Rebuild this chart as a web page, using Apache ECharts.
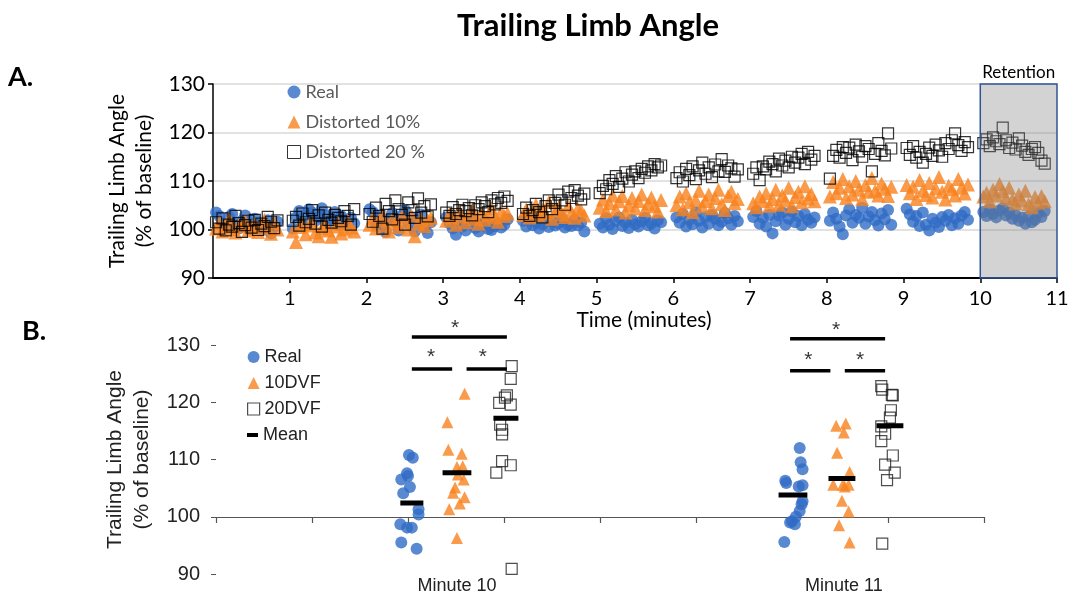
<!DOCTYPE html>
<html>
<head>
<meta charset="utf-8">
<script src="https://cdn.jsdelivr.net/npm/echarts@6/dist/echarts.min.js"></script>
<style>
  html, body { margin: 0; padding: 0; background: #fff; }
  #chart { width: 1074px; height: 597px; }
</style>
</head>
<body>
<div id="chart"></div>
<script>
// ---- panel A: one list of stride values per minute block (minutes 0..10) ----
const realA = [
  [103.5,102.8,101.2,100.4,102.6,103.2,101.0,100.2,101.8,102.9,101.5,100.0,102.2,101.1,99.8,100.6,101.9,99.2,100.5,101.6],
  [100.2,102.5,103.8,101.1,102.9,104.2,103.5,101.8,102.6,104.4,103.0,101.4,102.2,103.6,101.0,102.8,101.9,100.8,102.4,101.3],
  [104.2,103.6,101.0,102.8,100.2,99.5,102.1,103.4,101.6,99.8,102.9,104.0,101.2,102.5,99.6,101.8,103.1,100.4,99.3,101.5],
  [102.5,101.3,100.2,98.9,101.8,100.6,99.8,101.4,102.0,100.3,99.6,100.9,101.7,100.1,99.9,100.7,101.2,100.4,101.0,102.1],
  [101.8,100.6,102.4,100.9,101.5,100.2,101.1,102.0,100.5,101.7,100.8,101.3,102.2,100.4,101.0,100.7,101.9,100.9,101.4,99.6],
  [101.2,100.4,102.3,101.0,100.1,101.8,102.5,100.7,101.4,100.3,102.0,101.1,100.6,101.7,102.4,100.9,101.3,100.2,101.9,101.5],
  [102.5,101.4,103.2,100.6,102.0,101.1,103.5,101.8,100.4,102.6,101.2,103.0,102.2,100.9,101.6,103.4,102.3,101.0,102.8,101.7],
  [102.6,103.8,101.2,102.4,100.6,103.0,99.2,101.7,102.9,103.5,101.0,102.2,103.7,101.5,102.8,100.9,103.2,102.0,101.4,102.5],
  [101.8,103.5,102.2,100.6,99.0,102.9,104.2,101.4,103.0,102.4,104.5,101.2,102.7,103.6,101.9,100.8,103.3,102.1,104.0,101.0],
  [104.3,103.1,101.6,102.8,100.7,103.5,101.0,99.8,102.2,101.4,100.5,102.6,101.8,103.0,100.9,102.3,101.2,102.9,103.6,102.0],
  [103.6,102.8,104.1,103.2,102.5,103.9,104.4,102.9,103.5,102.2,103.0,101.8,102.4,101.2,102.7,101.5,102.0,103.4,102.6,103.8]
];
const dist10A = [
  [100.2,101.5,99.6,100.8,102.2,100.1,99.4,101.0,100.6,101.8,99.8,100.4,101.2,99.5,100.9,102.0,100.3,99.1,101.4,100.0],
  [99.6,97.4,100.5,101.2,99.0,100.8,101.6,99.4,98.6,100.2,101.0,99.8,98.5,100.6,101.4,99.2,100.0,101.8,100.4,99.6],
  [101.0,102.4,100.2,101.8,103.0,100.8,99.6,102.1,101.3,100.5,102.7,101.6,100.0,102.9,98.6,101.2,102.3,100.7,101.9,102.5],
  [101.8,103.2,102.4,101.0,103.8,102.7,101.5,102.9,104.1,102.2,101.2,103.5,102.0,103.0,104.4,102.5,101.6,103.7,102.8,103.3],
  [103.0,104.2,102.5,103.6,105.1,102.8,104.0,103.3,105.6,102.2,103.8,104.6,103.1,102.6,104.9,103.5,102.4,104.3,103.9,102.9],
  [104.5,106.2,103.8,105.4,107.0,104.1,105.8,106.9,103.5,105.0,106.5,104.4,105.9,107.2,104.0,105.3,106.6,104.8,103.7,106.1],
  [105.0,106.8,104.2,107.5,105.6,103.6,106.1,108.0,104.8,105.9,107.2,104.4,106.5,108.2,105.2,104.0,106.9,107.8,105.4,106.3],
  [105.4,104.6,106.8,105.9,107.5,104.9,106.3,108.2,105.1,107.0,106.0,108.6,104.8,106.7,107.8,105.6,108.9,106.4,107.3,105.8],
  [106.8,109.8,107.5,108.6,110.4,106.5,108.9,107.2,110.0,108.2,106.3,109.2,107.8,110.6,108.0,107.0,109.5,108.4,106.9,108.8],
  [109.2,107.5,108.8,106.3,110.2,108.0,107.1,109.6,106.6,108.5,110.8,107.8,106.2,109.0,108.3,107.0,110.4,108.6,107.4,109.3],
  [106.8,107.6,105.8,108.2,107.0,109.4,107.9,106.5,108.6,106.2,105.4,107.2,106.0,108.0,105.2,104.6,106.7,105.5,106.9,105.8]
];
const dist20A = [
  [101.5,100.2,102.3,99.8,101.0,100.6,102.8,101.3,99.5,100.9,101.8,100.4,102.0,99.9,101.2,100.7,102.6,101.6,100.3,101.9],
  [101.8,102.6,100.8,103.3,101.5,102.2,104.0,101.2,102.9,100.6,103.5,102.0,101.4,103.0,102.4,101.7,103.8,102.8,101.0,104.2],
  [103.2,101.6,104.5,102.8,100.2,105.3,103.8,102.1,106.0,104.2,103.0,101.0,105.6,104.0,102.4,106.4,103.5,104.8,102.7,105.2],
  [103.5,102.8,104.6,103.2,104.0,105.1,103.8,104.4,102.9,105.0,104.2,105.6,104.8,103.6,106.0,105.2,106.5,105.5,106.8,105.9],
  [103.2,104.5,102.8,104.0,105.3,103.6,102.5,104.8,106.0,104.2,105.5,107.2,106.0,105.1,107.8,106.5,108.1,107.0,106.2,107.4],
  [107.5,109.0,108.3,110.2,109.4,111.0,108.8,110.5,111.8,109.9,111.3,112.0,110.6,112.5,111.7,113.0,112.2,113.5,112.8,113.2],
  [110.6,111.8,109.9,112.5,111.2,113.0,110.4,112.2,113.8,111.5,112.8,110.8,113.4,112.0,114.5,111.9,113.2,112.6,110.9,112.4],
  [111.5,112.8,110.2,113.0,112.4,114.0,113.5,112.0,114.6,113.2,114.2,112.8,115.0,113.8,114.8,115.6,113.5,116.0,114.4,115.2],
  [110.5,115.2,116.4,114.8,117.0,115.8,116.9,114.3,117.5,116.1,115.0,117.2,116.6,112.0,115.6,117.8,116.2,115.3,119.8,116.7],
  [116.8,115.4,117.2,114.8,116.0,113.8,115.6,116.9,115.2,117.5,116.3,115.0,117.8,116.6,118.4,119.8,117.4,116.2,118.0,117.0],
  [117.8,118.6,117.2,119.0,118.2,117.6,121.0,118.4,116.8,117.9,116.5,118.8,117.3,116.0,115.4,116.6,117.0,115.8,114.2,113.6]
];

// ---- panel B: [x position, value] per subject ----
const realB = [
  [2.01,110.8],[2.05,110.3],[1.99,107.6],[1.93,106.5],[2.00,107.1],[2.02,105.2],[1.95,104.1],
  [2.11,101.3],[2.11,100.4],[1.92,98.7],[1.99,98.1],[2.04,98.1],[1.93,95.5],[2.09,94.4],
  [6.08,112.0],[6.09,109.5],[6.11,108.3],[5.93,106.3],[5.94,105.9],[6.11,105.5],[6.07,105.3],
  [6.11,102.7],[6.10,102.2],[6.08,101.0],[6.04,100.0],[6.00,99.2],[6.03,98.7],[5.98,99.0],[5.92,95.6]
];
const dvf10B = [
  [2.59,121.5],[2.41,116.5],[2.42,111.7],[2.56,111.0],[2.51,108.7],[2.57,108.8],[2.52,107.4],
  [2.58,106.5],[2.49,105.1],[2.47,104.2],[2.59,103.4],[2.54,102.3],[2.43,101.3],[2.51,96.3],
  [6.46,115.9],[6.56,116.3],[6.54,114.7],[6.47,111.2],[6.60,107.8],[6.43,105.6],[6.53,105.6],
  [6.59,105.6],[6.55,105.3],[6.52,102.8],[6.59,100.9],[6.49,98.5],[6.60,95.5]
];
const dvf20B = [
  [3.08,126.3],[3.07,124.1],[3.03,121.2],[3.01,120.8],[2.95,119.9],[3.07,119.6],[2.96,116.1],
  [2.98,115.2],[2.98,114.4],[2.98,109.7],[3.07,109.0],[2.92,107.7],[3.08,90.9],
  [6.93,122.8],[6.94,122.2],[7.04,121.3],[7.05,121.2],[7.03,118.6],[7.02,117.3],[6.93,115.8],
  [6.97,114.5],[6.93,113.2],[7.05,110.7],[6.97,109.1],[7.07,107.7],[6.99,106.4],[6.94,95.3]
];
// mean bars: [x start, x end, value]
const meanB = [[1.92,2.16,102.4],[2.36,2.66,107.7],[2.89,3.15,117.2],[5.86,6.16,103.8],[6.38,6.66,106.7],[6.88,7.16,115.9]];
// significance brackets and stars
const sigBars = [[2.04,3.03,131.4],[2.04,2.46,125.8],[2.61,3.03,125.8],[5.98,6.97,131.1],[5.98,6.40,125.5],[6.55,6.97,125.5]];
const sigStars = [[2.49,133.0],[2.24,127.8],[2.78,127.8],[6.46,132.5],[6.17,127.3],[6.71,127.3]];
const minuteLabels = ['Minute 10', 'Minute 11'];
const minuteLabelPos = [2.51, 6.54];

const BLUE = '#2f6cc4';
const ORANGE = '#f7821e';

// stride samples spread across each minute block
function blockPoints(blocks) {
  const pts = [];
  blocks.forEach(function (vals, m) {
    vals.forEach(function (v, i) {
      pts.push([m + 0.04 + i * 0.8 / (vals.length - 1), v]);
    });
  });
  return pts;
}

var chart = echarts.init(document.getElementById('chart'));

var series = [
  { name: 'Real', type: 'scatter', xAxisIndex: 0, yAxisIndex: 0, symbol: 'circle', symbolSize: 12,
    itemStyle: { color: BLUE }, data: blockPoints(realA) },
  { name: 'Distorted 10%', type: 'scatter', xAxisIndex: 0, yAxisIndex: 0, symbol: 'triangle', symbolSize: 14,
    itemStyle: { color: ORANGE }, data: blockPoints(dist10A) },
  { name: 'Distorted 20 %', type: 'scatter', xAxisIndex: 0, yAxisIndex: 0, symbol: 'rect', symbolSize: 11,
    itemStyle: { color: 'rgba(0,0,0,0)', borderColor: '#000', borderWidth: 1.2 }, data: blockPoints(dist20A) },
  // retention shading
  { type: 'line', xAxisIndex: 0, yAxisIndex: 0, data: [], z: 6,
    markArea: {
      silent: true, z: 6,
      itemStyle: { color: 'rgba(128,128,128,0.35)', borderColor: '#2f5597', borderWidth: 1.5 },
      label: { show: true, position: 'top', distance: 2, formatter: 'Retention',
        fontFamily: 'Lato', fontSize: 17, color: '#000' },
      data: [[{ xAxis: 10, yAxis: 90 }, { xAxis: 11, yAxis: 130 }]]
    } },

  { name: 'Real', type: 'scatter', xAxisIndex: 1, yAxisIndex: 1, symbol: 'circle', symbolSize: 12,
    itemStyle: { color: BLUE }, data: realB },
  { name: '10DVF', type: 'scatter', xAxisIndex: 1, yAxisIndex: 1, symbol: 'triangle', symbolSize: 12,
    itemStyle: { color: ORANGE }, data: dvf10B },
  { name: '20DVF', type: 'scatter', xAxisIndex: 1, yAxisIndex: 1, symbol: 'rect', symbolSize: 11, clip: false,
    itemStyle: { color: 'rgba(0,0,0,0)', borderColor: '#222', borderWidth: 1.2 }, data: dvf20B },
  { type: 'scatter', xAxisIndex: 1, yAxisIndex: 1, symbolSize: 1, clip: false, silent: true,
    itemStyle: { color: 'rgba(0,0,0,0)' },
    label: { show: true, position: 'inside', formatter: '*', fontFamily: 'Liberation Sans', fontSize: 21, color: '#000' },
    data: sigStars }
];

meanB.forEach(function (b) {
  series.push({ name: 'Mean', type: 'line', xAxisIndex: 1, yAxisIndex: 1, symbol: 'none', z: 4,
    lineStyle: { color: '#000', width: 5 }, itemStyle: { color: '#000' },
    data: [[b[0], b[2]], [b[1], b[2]]] });
});
sigBars.forEach(function (b) {
  series.push({ type: 'line', xAxisIndex: 1, yAxisIndex: 1, symbol: 'none', clip: false, silent: true,
    lineStyle: { color: '#000', width: 3.5 }, data: [[b[0], b[2]], [b[1], b[2]]] });
});

var option = {
  animation: false,
  backgroundColor: '#fff',
  title: {
    text: 'Trailing Limb Angle', left: 452, top: 5,
    textStyle: { fontFamily: 'Lato', fontWeight: 'bold', fontSize: 31, color: '#000' }
  },
  graphic: [
    { type: 'text', left: 8, top: 64, style: { text: 'A.', fontFamily: 'Lato', fontWeight: 'bold', fontSize: 27, fill: '#000' } },
    { type: 'text', left: 22, top: 318, style: { text: 'B.', fontFamily: 'Lato', fontWeight: 'bold', fontSize: 27, fill: '#000' } }
  ],
  legend: [
    { orient: 'vertical', left: 282, top: 78, itemGap: 12, itemWidth: 13, itemHeight: 13,
      textStyle: { fontFamily: 'Lato', fontSize: 18, color: '#595959' },
      data: [
        { name: 'Real', icon: 'circle' },
        { name: 'Distorted 10%', icon: 'triangle' },
        { name: 'Distorted 20 %', icon: 'rect', itemStyle: { color: 'rgba(0,0,0,0)', borderColor: '#000', borderWidth: 1 } }
      ] },
    { orient: 'vertical', left: 242, top: 343, itemGap: 8, itemWidth: 12, itemHeight: 12,
      textStyle: { fontFamily: 'Liberation Sans', fontSize: 18, color: '#222' },
      data: [
        { name: 'Real', icon: 'circle' },
        { name: '10DVF', icon: 'triangle' },
        { name: '20DVF', icon: 'rect', itemStyle: { color: 'rgba(0,0,0,0)', borderColor: '#222', borderWidth: 1.2 } }
      ] },
    { orient: 'vertical', left: 242, top: 421, itemWidth: 11, itemHeight: 4,
      textStyle: { fontFamily: 'Liberation Sans', fontSize: 18, color: '#222' },
      data: [{ name: 'Mean', icon: 'rect', itemStyle: { color: '#000' } }] }
  ],
  grid: [
    { left: 213, right: 17, top: 84, bottom: 319 },
    { left: 216, right: 90, top: 345, bottom: 23 },
    { left: 216, right: 90, top: 345, height: 172 }
  ],
  xAxis: [
    { gridIndex: 0, type: 'value', min: 0, max: 11, interval: 1,
      axisLine: { lineStyle: { color: '#000', width: 2 } },
      axisTick: { length: 5, lineStyle: { color: '#000', width: 1.5 } },
      axisLabel: { showMinLabel: false, fontFamily: 'Lato', fontSize: 20, color: '#000', margin: 11 },
      splitLine: { show: false },
      name: 'Time (minutes)', nameLocation: 'middle', nameGap: 32,
      nameTextStyle: { fontFamily: 'Lato', fontSize: 21, color: '#000', padding: [0, 0, 0, 18] } },
    { gridIndex: 1, type: 'value', min: 0, max: 8,
      axisLine: { show: false }, axisTick: { show: false }, splitLine: { show: false },
      axisLabel: { customValues: minuteLabelPos, margin: 3, fontFamily: 'Liberation Sans', fontSize: 18, color: '#222',
        formatter: function (v) { return minuteLabels[minuteLabelPos.indexOf(v)] || ''; } } },
    { gridIndex: 2, type: 'value', min: 0, max: 8, interval: 1,
      axisLine: { lineStyle: { color: '#555', width: 1.2 } },
      axisTick: { length: 6, lineStyle: { color: '#555', width: 1.2 } },
      axisLabel: { show: false }, splitLine: { show: false } }
  ],
  yAxis: [
    { gridIndex: 0, type: 'value', min: 90, max: 130, interval: 10,
      axisLine: { show: true, lineStyle: { color: '#000', width: 1.5 } },
      axisTick: { show: true, length: 5, lineStyle: { color: '#000', width: 1.5 } },
      axisLabel: { fontFamily: 'Lato', fontSize: 21, color: '#000', margin: 8 },
      splitLine: { lineStyle: { color: '#d9d9d9', width: 1.5 } },
      name: 'Trailing Limb Angle\n(% of baseline)', nameLocation: 'middle', nameRotate: 90, nameGap: 51,
      nameTextStyle: { fontFamily: 'Lato', fontSize: 21, color: '#000', lineHeight: 27 } },
    { gridIndex: 1, type: 'value', min: 90, max: 130, interval: 10,
      axisLine: { show: false },
      axisTick: { show: true, length: 5, lineStyle: { color: '#555' } },
      axisLabel: { fontFamily: 'Liberation Sans', fontSize: 20, color: '#222', margin: 16 },
      splitLine: { show: false },
      name: 'Trailing Limb Angle\n(% of baseline)', nameLocation: 'middle', nameRotate: 90, nameGap: 54,
      nameTextStyle: { fontFamily: 'Liberation Sans', fontSize: 21, color: '#222', lineHeight: 27 } },
    { gridIndex: 2, type: 'value', min: 0, max: 1, show: false }
  ],
  series: series
};

chart.setOption(option);
</script>
</body>
</html>
